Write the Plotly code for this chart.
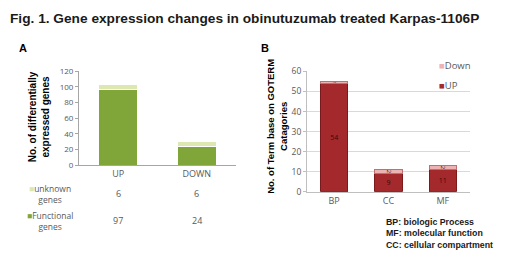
import plotly.graph_objects as go

# Panel A data
a_categories = ["UP", "DOWN"]
a_functional = [97, 24]
a_unknown = [6, 6]
a_row_labels = ["unknown<br>genes", "Functional<br>genes"]
a_yticks = [0, 20, 40, 60, 80, 100, 120]

# Panel B data
b_categories = ["BP", "CC", "MF"]
b_up = [54, 9, 11]
b_down = [1, 2, 2]
b_yticks = [0, 10, 20, 30, 40, 50, 60]

# page body has an 8px default margin: shrink figure and shift coordinates
OFF = 8
W, H = 520 - OFF, 259 - OFF
def py(p):  # reference pixel y -> paper
    return 1 - (p - OFF) / H
def px(p):
    return (p - OFF) / W

GRAY = "#595959"
FONT = "Open Sans"
GREEN = "#80A63A"
LGREEN = "#DCE8B0"
RED = "#A4292C"
PINK = "#EDB3B3"

fig = go.Figure()

# Panel A
fig.add_trace(go.Bar(x=a_categories, y=a_functional, name="Functional genes",
                     marker=dict(color=GREEN, line=dict(color="white", width=1)),
                     width=0.5, xaxis="x", yaxis="y", showlegend=False))
fig.add_trace(go.Bar(x=a_categories, y=a_unknown, name="unknown genes",
                     marker=dict(color=LGREEN, line=dict(color="white", width=1)),
                     width=0.5, xaxis="x", yaxis="y", showlegend=False))

# Panel B
fig.add_trace(go.Bar(x=b_categories, y=b_up, name="UP",
                     marker=dict(color=RED, line=dict(color="#7A1A1C", width=1)),
                     text=[str(v) for v in b_up], textposition="inside",
                     insidetextanchor="middle",
                     textfont=dict(size=7, color="#3A0A0A", family=FONT),
                     width=0.5, xaxis="x2", yaxis="y2", showlegend=False))
fig.add_trace(go.Bar(x=b_categories, y=b_down, name="Down",
                     marker=dict(color=PINK, line=dict(color="#C07070", width=1)),
                     text=[str(v) for v in b_down], textposition="inside",
                     insidetextanchor="middle",
                     textfont=dict(size=6, color="#3A0A0A", family=FONT),
                     width=0.5, xaxis="x2", yaxis="y2", showlegend=False))

annotations = []
# Title
annotations.append(dict(text="<b>Fig. 1. Gene expression changes in obinutuzumab treated Karpas-1106P</b>",
                        x=px(8), y=py(13), xref="paper", yref="paper", xanchor="left",
                        yanchor="middle", showarrow=False,
                        font=dict(family="Liberation Sans", size=13.7, color="#1a1a1a")))
annotations.append(dict(text="<b>A</b>", x=px(17), y=py(44), xref="paper", yref="paper",
                        xanchor="left", yanchor="middle", showarrow=False,
                        font=dict(family="Liberation Sans", size=11, color="black")))
annotations.append(dict(text="<b>B</b>", x=px(259), y=py(44), xref="paper", yref="paper",
                        xanchor="left", yanchor="middle", showarrow=False,
                        font=dict(family="Liberation Sans", size=11, color="black")))
# Y titles
annotations.append(dict(text="<b>No. of differentially<br>expressed genes</b>",
                        x=px(39), y=py(116), xref="paper", yref="paper", textangle=-90,
                        xanchor="center", yanchor="middle", showarrow=False,
                        font=dict(family="Liberation Sans", size=10, color="black")))
annotations.append(dict(text="<b>No. of Term base on GOTERM<br>Catagories</b>",
                        x=px(277), y=py(126), xref="paper", yref="paper", textangle=-90,
                        xanchor="center", yanchor="middle", showarrow=False,
                        font=dict(family="Liberation Sans", size=9.5, color="black")))
# Panel A data table
row_y = [196, 224]
row_colors = [LGREEN, GREEN]
row_vals = [a_unknown, a_functional]
for lbl, yy, col, vals in zip(a_row_labels, row_y, row_colors, row_vals):
    parts = lbl.split("<br>")
    annotations.append(dict(text=f"<span style='color:{col}'>■</span>{parts[0]}<br>{parts[1]}",
                            x=px(50), y=py(yy), xref="paper", yref="paper",
                            xanchor="center", yanchor="middle", showarrow=False, align="center",
                            font=dict(family=FONT, size=8.5, color=GRAY)))
    for c, v in zip(a_categories, vals):
        annotations.append(dict(text=str(v), x=c, y=py(yy), xref="x", yref="paper",
                                xanchor="center", yanchor="middle", showarrow=False,
                                font=dict(family=FONT, size=9, color=GRAY)))
# Panel B legend
leg_names = ["Down", "UP"]
leg_colors = [PINK, RED]
leg_y = [62, 83]
for nm, col, yy in zip(leg_names, leg_colors, leg_y):
    annotations.append(dict(text=f"<span style='color:{col}'>■</span>{nm}",
                            x=px(437), y=py(yy), xref="paper", yref="paper",
                            xanchor="left", yanchor="middle", showarrow=False,
                            font=dict(family=FONT, size=9.5, color=GRAY)))
# Notes
annotations.append(dict(text="<b>BP: biologic Process<br>MF: molecular function<br>CC: cellular compartment</b>",
                        x=px(384), y=py(238), xref="paper", yref="paper", xanchor="left",
                        yanchor="middle", showarrow=False, align="left",
                        font=dict(family="Liberation Sans", size=8.8, color="#1a1a1a")))

fig.update_layout(
    width=W, height=H, margin=dict(l=0, r=0, t=0, b=0),
    paper_bgcolor="white", plot_bgcolor="white",
    barmode="stack", bargap=0.5, showlegend=False,
    font=dict(family=FONT, size=8, color=GRAY),
    xaxis=dict(domain=[px(79), px(236)], anchor="y", showline=True, linecolor="#A6A6A6",
               ticks="", tickfont=dict(size=9, color=GRAY, family=FONT), showgrid=False),
    yaxis=dict(domain=[py(166), py(68)], anchor="x", range=[0, 120], tickvals=a_yticks,
               showline=True, linecolor="#A6A6A6", ticks="outside", ticklen=3,
               tickcolor="#A6A6A6", showgrid=False, tickfont=dict(size=8, color=GRAY)),
    xaxis2=dict(domain=[px(307), px(470)], anchor="y2", showline=True, linecolor="#BFBFBF",
                ticks="", tickfont=dict(size=9, color=GRAY, family=FONT),
                showgrid=False),
    yaxis2=dict(domain=[py(194), py(68)], anchor="x2", range=[0, 60], tickvals=b_yticks,
                showline=True, linecolor="#BFBFBF", ticks="outside", ticklen=3,
                tickcolor="#BFBFBF", showgrid=True, gridcolor="#D9D9D9",
                tickfont=dict(size=8.5, color=GRAY)),
    annotations=annotations,
)

fig.write_html("out.html")
